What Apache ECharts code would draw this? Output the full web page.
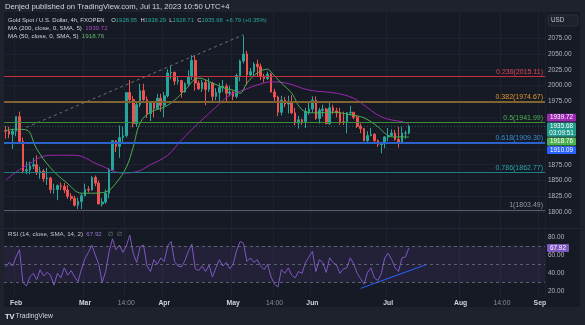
<!DOCTYPE html>
<html>
<head>
<meta charset="utf-8">
<script src="https://cdn.jsdelivr.net/npm/echarts@6/dist/echarts.min.js"></script>
<style>
  html, body { margin: 0; padding: 0; background: #1e222d; }
  #chart { width: 585px; height: 325px; }
</style>
</head>
<body>
<div id="chart"></div>
<script>
// ---- Data -------------------------------------------------------------
// Trading days (weekdays) shown on the time axis, Jan 27 2023 .. Sep 4 2023
const tradingDays = (function () {
  const out = [];
  const d = new Date(Date.UTC(2023, 0, 27));
  const end = Date.UTC(2023, 8, 4);
  while (d.getTime() <= end) {
    const wd = d.getUTCDay();
    if (wd !== 0 && wd !== 6) out.push(d.toISOString().slice(0, 10));
    d.setUTCDate(d.getUTCDate() + 1);
  }
  return out;
})();

// Time axis tick labels
const timeLabels = {
  '2023-02-01': 'Feb', '2023-03-01': 'Mar', '2023-03-17': '14:00',
  '2023-04-03': 'Apr', '2023-05-01': 'May', '2023-05-17': '14:00',
  '2023-06-01': 'Jun', '2023-07-03': 'Jul', '2023-08-01': 'Aug',
  '2023-08-17': '14:00', '2023-09-01': 'Sep'
};

// XAU/USD candles: [open, high, low, close]
const ohlc = [
  [1929,1936,1916,1928],[1928,1935,1917,1923],[1923,1932,1900,1928],[1928,1951,1920,1951],
  [1951,1959,1910,1912],[1912,1918,1861,1865],[1865,1880,1860,1867],[1867,1880,1860,1873],
  [1873,1886,1868,1875],[1875,1890,1859,1862],[1862,1872,1853,1865],[1865,1868,1848,1853],
  [1853,1870,1843,1854],[1854,1856,1830,1836],[1836,1845,1829,1836],[1836,1844,1819,1842],
  [1842,1847,1835,1841],[1841,1846,1830,1835],[1835,1843,1821,1825],[1825,1830,1818,1822],
  [1822,1826,1809,1811],[1811,1823,1805,1817],[1817,1830,1805,1826],[1826,1845,1825,1836],
  [1836,1841,1831,1835],[1835,1857,1834,1855],[1855,1858,1841,1846],[1846,1850,1813,1813],
  [1813,1822,1809,1816],[1816,1836,1813,1830],[1830,1870,1822,1867],[1867,1913,1866,1913],
  [1913,1914,1895,1904],[1904,1937,1886,1918],[1918,1935,1911,1921],[1921,1989,1918,1989],
  [1989,2009,1972,1978],[1978,1984,1934,1940],[1940,1975,1935,1970],[1970,2003,1966,1992],
  [1992,2003,1976,1978],[1978,1983,1949,1956],[1956,1975,1944,1973],[1973,1976,1950,1964],
  [1964,1987,1962,1980],[1980,1987,1959,1969],[1969,1990,1950,1984],[1984,2026,1981,2020],
  [2020,2032,2010,2021],[2021,2022,2001,2007],[2007,2015,2002,2008],[2008,2009,1981,1990],
  [1990,2005,1989,2003],[2003,2024,1999,2014],[2014,2048,2009,2040],[2040,2048,1992,2004],
  [2004,2008,1993,1995],[1995,2009,1990,2005],[2005,2009,1969,1994],[1994,2012,1990,2004],
  [2004,2006,1974,1983],[1983,1996,1977,1989],[1989,2004,1975,1997],[1997,2009,1990,1999],
  [1999,2003,1975,1988],[1988,2000,1983,1990],[1990,1992,1977,1983],[1983,2019,1980,2016],
  [2016,2041,2007,2039],[2039,2079,2035,2050],[2050,2055,2001,2017],[2017,2028,2014,2022],
  [2022,2037,2015,2034],[2034,2041,2014,2030],[2030,2035,2009,2015],[2015,2019,2005,2011],
  [2011,2022,2009,2018],[2018,2020,1989,1990],[1990,1995,1976,1982],[1982,1984,1952,1958],
  [1958,1984,1953,1977],[1977,1982,1966,1971],[1971,1984,1956,1975],[1975,1985,1955,1957],
  [1957,1965,1937,1941],[1941,1952,1932,1946],[1946,1948,1938,1943],[1943,1965,1933,1959],
  [1959,1974,1954,1963],[1963,1983,1958,1977],[1977,1983,1946,1948],[1948,1965,1940,1961],
  [1961,1970,1951,1963],[1963,1965,1939,1940],[1940,1973,1938,1965],[1965,1970,1955,1960],
  [1960,1965,1950,1957],[1957,1965,1938,1943],[1943,1959,1938,1942],[1942,1958,1925,1957],
  [1957,1968,1953,1958],[1958,1958,1947,1950],[1950,1953,1933,1936],[1936,1940,1925,1932],
  [1932,1933,1912,1913],[1913,1928,1910,1921],[1921,1933,1920,1923],[1923,1925,1911,1913],
  [1913,1915,1903,1907],[1907,1911,1893,1908],[1908,1920,1901,1919],[1919,1933,1912,1921],
  [1921,1931,1920,1925],[1925,1930,1913,1915],[1915,1935,1902,1911],[1911,1935,1910,1925],
  [1925,1929,1916,1925],[1925,1938,1923,1935.68]
];

// Moving averages: [day index, value]
const ma200 = [
  [0,1851],[6,1874],[13,1890],[20,1890],[27,1875],[34,1862],[38,1864],[42,1875],
  [47,1890],[51,1914],[56,1941],[61,1966],[65,1985],[69,1993],[73,2001],[77,2006],
  [81,2004.5],[88,1993],[96,1988],[101,1980],[104,1969],[108,1953.6],[111,1947],
  [115,1943],[117,1939.72]
];
const ma50 = [
  [0,1929],[3,1931],[6,1930],[9,1900],[13,1870],[18,1845],[22,1830],[25,1830],
  [29,1832],[32,1846],[35,1871],[37,1903],[39,1941],[42,1958],[46,1966],[49,1977],
  [52,1993],[56,2012],[60,2004],[64,1995],[66,1993],[68,1988],[70,2004],[73,2020],
  [76,2026],[77,2021.5],[80,2004],[83,1988],[86,1962],[90,1957],[95,1958],[100,1954],
  [104,1949],[108,1935],[110,1925],[112,1919],[115,1919],[117,1918.76]
];

// Fibonacci retracement levels
const fibRatios = ['0.236', '0.382', '0.5', '0.618', '0.786', '1'];
const fibPrices = [2015.11, 1974.67, 1941.99, 1909.30, 1862.77, 1803.49];
const fibAnchor = [[6, 1934], [69, 2080.48]];

// RSI (14)
const rsiValues = [
  47,52,48,58,66,30,26,36,40,33,44,37,41,38,27,40,35,46,38,43,
  36,31,45,56,63,71,60,50,30,42,64,78,66,71,63,70,82,62,52,69,
  71,48,42,55,50,57,53,70,75,53,48,47,54,64,72,45,43,48,42,49,
  36,46,55,48,52,45,50,65,75,73,53,57,52,55,48,44,50,36,28,25,
  44,40,46,38,35,42,40,52,58,64,42,55,52,41,57,52,49,40,45,46,
  57,50,40,34,28,41,46,35,32,40,57,62,55,46,42,57,58,67.92
];
const rsiTrend = [[103, 23.5], [122, 49.5]];

const priceTicks = [1800, 1825, 1850, 1875, 1900, 1925, 1950, 1975, 2000, 2025, 2050, 2075];
const rsiTicks = [20, 40, 60, 80];
const extraLevel = 1910.09;
const countdown = '03:09:51';

// ---- Styling ----------------------------------------------------------
const FONT = '"Liberation Sans", Arial, sans-serif';
const UP = '#26a69a', DOWN = '#ef5350';
const fibLine = ['#c62f3e', '#7f6330', '#3f8d38', '#2b62c9', '#1f7e86', '#5d606b'];
const fibWidth = [1, 2, 1, 2, 1, 1];
const fibText = ['#e2404f', '#e0952f', '#4caf50', '#3b8fd0', '#26a4ac', '#9598a1'];
const gridColor = '#1e2230';

const lastClose = ohlc[ohlc.length - 1][3];
const isLabelDay = (i, v) => Object.prototype.hasOwnProperty.call(timeLabels, v);

const chart = echarts.init(document.getElementById('chart'), null, { renderer: 'canvas' });

const baseX = {
  type: 'category', data: tradingDays, boundaryGap: true,
  axisLine: { show: false }, axisTick: { show: false },
  splitLine: { show: true, interval: isLabelDay, lineStyle: { color: gridColor, width: 1 } }
};

chart.setOption({
  backgroundColor: '#161a25',
  animation: false,
  textStyle: { fontFamily: FONT },
  grid: [
    { left: 4, top: 12, width: 541, height: 216 },
    { left: 4, top: 229, width: 541, height: 68 }
  ],
  xAxis: [
    Object.assign({}, baseX, { gridIndex: 0, axisLabel: { show: false } }),
    Object.assign({}, baseX, {
      gridIndex: 1,
      axisLabel: {
        show: true, interval: isLabelDay, margin: 3,
        formatter: v => timeLabels[v].indexOf(':') >= 0 ? '{t|' + timeLabels[v] + '}' : '{m|' + timeLabels[v] + '}',
        rich: {
          m: { color: '#d1d4dc', fontSize: 6.8, fontWeight: 'bold', fontFamily: FONT },
          t: { color: '#8a8d96', fontSize: 6.8, fontFamily: FONT }
        }
      }
    })
  ],
  yAxis: [
    {
      gridIndex: 0, type: 'value', position: 'right', min: 1775, max: 2116.4, scale: true,
      axisLine: { show: false },
      axisTick: { show: false, customValues: priceTicks },
      axisLabel: { customValues: priceTicks, formatter: v => v.toFixed(2), color: '#b2b5be', fontSize: 6.5, margin: 3 },
      splitLine: { show: true, lineStyle: { color: gridColor } }
    },
    {
      gridIndex: 1, type: 'value', position: 'right', min: 14, max: 88.7,
      axisLine: { show: false },
      axisTick: { show: false, customValues: rsiTicks },
      axisLabel: { customValues: rsiTicks, formatter: v => v.toFixed(2), color: '#b2b5be', fontSize: 6.5, margin: 3 },
      splitLine: { show: false }
    }
  ],
  series: [
    {
      name: 'XAUUSD', type: 'candlestick', xAxisIndex: 0, yAxisIndex: 0,
      data: ohlc.map(([o, h, l, c]) => [o, c, l, h]),
      barWidth: '62%',
      itemStyle: { color: UP, color0: DOWN, borderColor: UP, borderColor0: DOWN, borderWidth: 1 },
      markLine: {
        silent: true, symbol: ['none', 'none'], animation: false,
        data: fibPrices.map((p, k) => ({
          yAxis: p,
          lineStyle: { color: fibLine[k], width: fibWidth[k], type: 'solid' },
          label: {
            show: true, position: 'insideEndTop', distance: [2, 1],
            formatter: fibRatios[k] + '(' + p.toFixed(2) + ')',
            color: fibText[k], fontSize: 7, fontFamily: FONT
          }
        })).concat([{
          yAxis: lastClose,
          lineStyle: { color: 'rgba(38,166,154,0.45)', width: 1, type: [1, 2] },
          label: { show: false }
        }])
      }
    },
    {
      name: 'MA200', type: 'line', xAxisIndex: 0, yAxisIndex: 0, data: ma200,
      smooth: 0.4, symbol: 'none', lineStyle: { color: '#9c27b0', width: 1 }, z: 3
    },
    {
      name: 'MA50', type: 'line', xAxisIndex: 0, yAxisIndex: 0, data: ma50,
      smooth: 0.4, symbol: 'none', lineStyle: { color: '#4caf50', width: 1 }, z: 3
    },
    {
      name: 'Fib trend', type: 'line', xAxisIndex: 0, yAxisIndex: 0, data: fibAnchor,
      symbol: 'none', lineStyle: { color: '#6b6e78', width: 1, type: [3, 3] }, z: 4
    },
    {
      name: 'RSI', type: 'line', xAxisIndex: 1, yAxisIndex: 1, data: rsiValues,
      symbol: 'none', lineStyle: { color: '#7e57c2', width: 1 },
      markArea: {
        silent: true, itemStyle: { color: 'rgba(126,87,194,0.12)' },
        data: [[{ yAxis: 30 }, { yAxis: 70 }]]
      },
      markLine: {
        silent: true, symbol: ['none', 'none'], animation: false,
        lineStyle: { color: 'rgba(120,123,134,0.7)', type: [3, 3], width: 1 },
        label: { show: false },
        data: [{ yAxis: 70 }, { yAxis: 50 }, { yAxis: 30 }]
      }
    },
    {
      name: 'RSI trend', type: 'line', xAxisIndex: 1, yAxisIndex: 1, data: rsiTrend,
      symbol: 'none', lineStyle: { color: '#2962ff', width: 1 }
    }
  ]
});

// ---- Price tags on the right scale, stacked so they do not overlap ----
const tags = [
  { value: ma200[ma200.length - 1][1], lines: [ma200[ma200.length - 1][1].toFixed(2)], bg: '#9c27b0' },
  { value: lastClose, lines: [lastClose.toFixed(2), countdown], bg: '#1f9a8c' },
  { value: ma50[ma50.length - 1][1], lines: [ma50[ma50.length - 1][1].toFixed(2)], bg: '#4caf50' },
  { value: extraLevel, lines: [extraLevel.toFixed(2)], bg: '#2962ff' }
];
const lineH = 6.6;
tags.forEach(t => {
  t.y = chart.convertToPixel({ yAxisIndex: 0 }, t.value);
  t.h = t.lines.length * lineH + 1.2;
});
(function stack(items) {
  const gap = 0.8;
  const sorted = items.slice().sort((a, b) => a.y - b.y);
  const total = sorted.reduce((s, t) => s + t.h, 0) + gap * (sorted.length - 1);
  const mid = sorted.reduce((s, t) => s + t.y, 0) / sorted.length + 1.5;
  let cur = mid - total / 2;
  sorted.forEach(t => { t.top = cur; cur += t.h + gap; });
})(tags);

const graphics = [];
// outer frame
graphics.push({ type: 'rect', shape: { x: 0, y: 0, width: 585, height: 12 }, style: { fill: '#1e222d' }, z: 100 });
graphics.push({ type: 'rect', shape: { x: 0, y: 307, width: 585, height: 18 }, style: { fill: '#1e222d' }, z: 100 });
graphics.push({ type: 'rect', shape: { x: 580, y: 0, width: 5, height: 325 }, style: { fill: '#1e222d' }, z: 100 });
graphics.push({ type: 'rect', shape: { x: 0, y: 0, width: 4, height: 325 }, style: { fill: '#1e222d' }, z: 100 });
// pane separator
graphics.push({ type: 'rect', shape: { x: 4, y: 228, width: 576, height: 1 }, style: { fill: '#242834' }, z: 50 });

tags.forEach(t => {
  graphics.push({ type: 'rect', shape: { x: 547, y: t.top, width: 29, height: t.h, r: 1 }, style: { fill: t.bg }, z: 110 });
  t.lines.forEach((s, k) => {
    graphics.push({
      type: 'text', x: 561.5, y: t.top + 0.6 + lineH * (k + 0.5), z: 111,
      style: { text: s, fill: '#ffffff', font: '6.3px ' + FONT, align: 'center', verticalAlign: 'middle' }
    });
  });
});

// RSI value tag
const rsiLast = rsiValues[rsiValues.length - 1];
const rsiY = chart.convertToPixel({ yAxisIndex: 1 }, rsiLast);
graphics.push({ type: 'rect', shape: { x: 547, y: rsiY - 4, width: 22, height: 8, r: 1 }, style: { fill: '#7e57c2' }, z: 110 });
graphics.push({
  type: 'text', x: 558, y: rsiY, z: 111,
  style: { text: rsiLast.toFixed(2), fill: '#ffffff', font: '6.3px ' + FONT, align: 'center', verticalAlign: 'middle' }
});

// currency box
graphics.push({ type: 'rect', shape: { x: 548, y: 15, width: 30, height: 11, r: 2 }, style: { fill: '#1e222d', stroke: '#2a2e39', lineWidth: 1 }, z: 110 });
graphics.push({ type: 'text', x: 551, y: 20.5, z: 111, style: { text: 'USD', fill: '#c8cad0', font: '6.3px ' + FONT, verticalAlign: 'middle' } });

// header
graphics.push({
  type: 'text', x: 5, y: 6.5, z: 111,
  style: { text: 'Denjed published on TradingView.com, Jul 11, 2023 10:50 UTC+4', fill: '#d1d4dc', font: '7.7px ' + FONT, verticalAlign: 'middle' }
});

// legend lines
const last = ohlc[ohlc.length - 1];
graphics.push({
  type: 'text', x: 8, y: 20, z: 111,
  style: {
    text: '{n|Gold Spot / U.S. Dollar, 4h, FXOPEN}  {k|O}{v|1928.95} {k|H}{v|1938.29} {k|L}{v|1928.71} {k|C}{v|' + last[3].toFixed(2) + '} {v|+6.79 (+0.35%)}',
    verticalAlign: 'middle',
    rich: {
      n: { fill: '#d1d4dc', font: '5.9px ' + FONT },
      k: { fill: '#d1d4dc', font: '5.9px ' + FONT },
      v: { fill: '#26a69a', font: '5.9px ' + FONT }
    }
  }
});
graphics.push({
  type: 'text', x: 8, y: 28.3, z: 111,
  style: {
    text: '{n|MA (200, close, 0, SMA, 5)} {p|' + ma200[ma200.length - 1][1].toFixed(2) + '}',
    verticalAlign: 'middle',
    rich: { n: { fill: '#d1d4dc', font: '6.2px ' + FONT }, p: { fill: '#ab47bc', font: '6.2px ' + FONT } }
  }
});
graphics.push({
  type: 'text', x: 8, y: 36.3, z: 111,
  style: {
    text: '{n|MA (50, close, 0, SMA, 5)} {g|' + ma50[ma50.length - 1][1].toFixed(2) + '}',
    verticalAlign: 'middle',
    rich: { n: { fill: '#d1d4dc', font: '6.2px ' + FONT }, g: { fill: '#66bb6a', font: '6.2px ' + FONT } }
  }
});
graphics.push({
  type: 'text', x: 8, y: 234.7, z: 111,
  style: {
    text: '{n|RSI (14, close, SMA, 14, 2)} {r|' + rsiLast.toFixed(2) + '}  {i|∅  ∅}',
    verticalAlign: 'middle',
    rich: {
      n: { fill: '#c3c6ce', font: '6.2px ' + FONT },
      r: { fill: '#9575cd', font: '6.2px ' + FONT },
      i: { fill: '#8a8d96', font: '6px ' + FONT }
    }
  }
});

// footer logo
graphics.push({ type: 'text', x: 5, y: 316.5, z: 111, style: { text: 'TV', fill: '#e8e9ec', font: 'bold 7.5px ' + FONT, verticalAlign: 'middle' } });
graphics.push({ type: 'text', x: 15.5, y: 316.5, z: 111, style: { text: 'TradingView', fill: '#d1d4dc', font: '6.8px ' + FONT, verticalAlign: 'middle' } });

chart.setOption({ graphic: graphics });
</script>
</body>
</html>
